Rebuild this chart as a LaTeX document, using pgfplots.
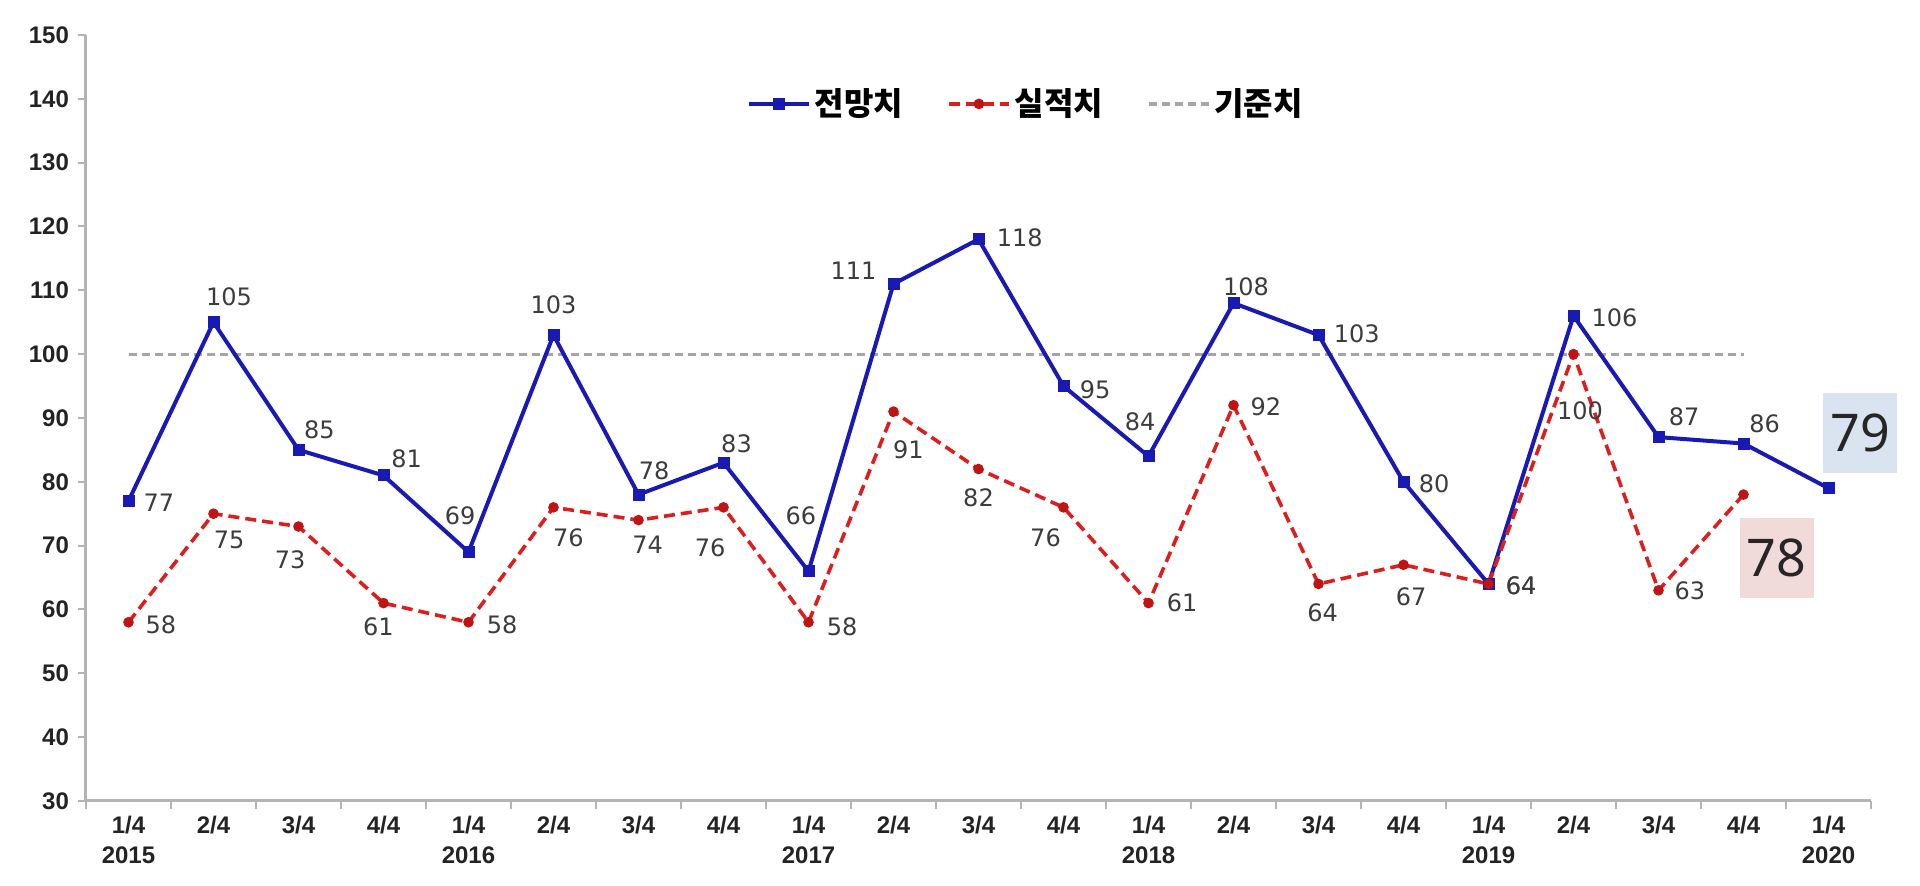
\documentclass[border=0pt]{standalone}
\usepackage{fontspec}
\usepackage{pgfplots}
\pgfplotsset{compat=1.18}
\setmainfont{Liberation Sans}
\newfontfamily\kr{Noto Sans CJK KR}
\newfontfamily\lblf{DejaVu Sans}
\newfontfamily\boxf{Noto Sans}

\definecolor{fcst}{RGB}{25,25,180}
\definecolor{actl}{RGB}{220,30,30}
\definecolor{actlmk}{RGB}{190,20,20}
\definecolor{basec}{RGB}{165,165,165}
\definecolor{axisc}{RGB}{180,180,180}
\definecolor{lbl}{RGB}{60,60,60}
\definecolor{tickc}{RGB}{35,35,35}
\definecolor{boxb}{RGB}{218,228,240}
\definecolor{boxr}{RGB}{240,218,218}

% x: quarter index, b: forecast, r: actual, *dx/*dy: label offsets (pt)
\pgfplotstableread{
x  b   r    bdx   bdy   rdx   rdy
0  77  58   15.2  -0.8  16.2  -1.3
1  105 75   7.8   12.5  7.8   -13.3
2  85  73   10.5  10    -4.2  -16.7
3  81  61   11.6  8.3   -2.5  -11.7
4  69  58   -4.2  18.3  16.8  -1.3
5  103 76   0     15    7.4   -15
6  78  74   7.8   12    4.6   -12.5
7  83  76   6.5   9.5   -6.7  -20
8  66  58   -3.8  27.5  16.8  -2.5
9  111 91   -20   6.7   7.4   -19.2
10 118 82   20.6  0.5   0     -14.2
11 95  76   15.8  -1.7  -9    -15
12 84  61   -4.2  17.5  16.8  0
13 108 92   6.3   8.3   16.2  -0.8
14 103 64   19.1  0.8   2.1   -14.2
15 80  67   15.3  -0.8  3.8   -15.8
16 64  64   16.3  -0.8  16.3  -0.8
17 106 100  20.5  -0.8  3.3   -28.3
18 87  63   12.8  10    15.7  0
19 86  78   10.5  10    16.5  -31.5
20 79  nan  15.8  27.5  0     0
}\data

\begin{document}
\begin{tikzpicture}
\useasboundingbox (-43pt,-42.5pt) rectangle (917pt,400.5pt);
\begin{axis}[
    at={(0,0)}, anchor=south west,
    scale only axis,
    width=892.5pt, height=383pt,
    xmin=-0.5, xmax=20.5,
    ymin=30, ymax=150,
    ytick={30,40,...,150},
    xtick={0,...,20},
    xticklabels={{1/4\\2015},2/4,3/4,4/4,{1/4\\2016},2/4,3/4,4/4,{1/4\\2017},2/4,3/4,4/4,{1/4\\2018},2/4,3/4,4/4,{1/4\\2019},2/4,3/4,4/4,{1/4\\2020}},
    minor xtick={-0.5,0.5,...,20.5},
    axis x line*=bottom, axis y line*=left,
    axis line style={draw=axisc, line width=1.5pt},
    tick align=outside,
    major tick length=4pt, minor tick length=4pt,
    major x tick style={draw=none},
    minor x tick style={draw=axisc, line width=1pt},
    major y tick style={draw=axisc, line width=1pt},
    /pgf/number format/assume math mode=true,
    ticklabel style={font=\fontsize{12}{15}\selectfont\bfseries, text=tickc},
    yticklabel style={xshift=-1pt},
    xticklabel style={align=center},
    clip=false,
    legend style={draw=none, fill=none, at={(0.527,0.910)}, anchor=center,
        legend columns=-1, font=\kr\fontsize{16}{18}\selectfont\bfseries,
        /tikz/every even column/.append style={column sep=20pt}},
    legend image code/.code={\draw[mark repeat=2,mark phase=2,#1] plot coordinates {(0pt,0pt) (15pt,0pt) (30pt,0pt)};},
    nodes near coords align=center,
]
% baseline 100
\addplot[basec, line width=1.6pt, dash pattern=on 4.2pt off 2.3pt, forget plot] coordinates {(0,100) (19,100)};

% forecast
\addplot[fcst, line width=2pt, mark=square*, mark size=2pt] table[x=x, y=b] {\data};
\addlegendentry{전망치}
% actual
\addplot[actl, line width=1.8pt, dash pattern=on 5.5pt off 3pt, mark=*, mark size=1.7pt,
    mark options={solid, fill=actlmk, draw=actlmk}, restrict x to domain=0:19] table[x=x, y=r] {\data};
\addlegendentry{실적치}
\addlegendimage{basec, line width=1.6pt, dash pattern=on 4.2pt off 2.3pt}
\addlegendentry{기준치}

% value labels
\addplot[draw=none, mark=none, forget plot, restrict x to domain=0:19,
    visualization depends on={\thisrow{bdx}\as\ldx},
    visualization depends on={\thisrow{bdy}\as\ldy},
    nodes near coords,
    nodes near coords style={anchor=center, xshift=\ldx pt, yshift=\ldy pt, font=\lblf\fontsize{12}{14}\selectfont, text=lbl},
] table[x=x, y=b] {\data};
\addplot[draw=none, mark=none, forget plot, restrict x to domain=0:18,
    visualization depends on={\thisrow{rdx}\as\ldx},
    visualization depends on={\thisrow{rdy}\as\ldy},
    nodes near coords,
    nodes near coords style={anchor=center, xshift=\ldx pt, yshift=\ldy pt, font=\lblf\fontsize{12}{14}\selectfont, text=lbl},
] table[x=x, y=r] {\data};

% latest values in boxes
\addplot[draw=none, mark=none, forget plot, restrict x to domain=20:20,
    visualization depends on={\thisrow{bdx}\as\ldx},
    visualization depends on={\thisrow{bdy}\as\ldy},
    nodes near coords,
    nodes near coords style={anchor=center, xshift=\ldx pt, yshift=\ldy pt, fill=boxb,
        minimum width=37pt, minimum height=40pt, inner sep=0pt,
        font=\boxf\fontsize{26}{28}\selectfont, text=black!85},
] table[x=x, y=b] {\data};
\addplot[draw=none, mark=none, forget plot, restrict x to domain=19:19,
    visualization depends on={\thisrow{rdx}\as\ldx},
    visualization depends on={\thisrow{rdy}\as\ldy},
    nodes near coords,
    nodes near coords style={anchor=center, xshift=\ldx pt, yshift=\ldy pt, fill=boxr,
        minimum width=37pt, minimum height=40pt, inner sep=0pt,
        font=\boxf\fontsize{26}{28}\selectfont, text=black!85},
] table[x=x, y=r] {\data};
\end{axis}
\end{tikzpicture}
\end{document}
